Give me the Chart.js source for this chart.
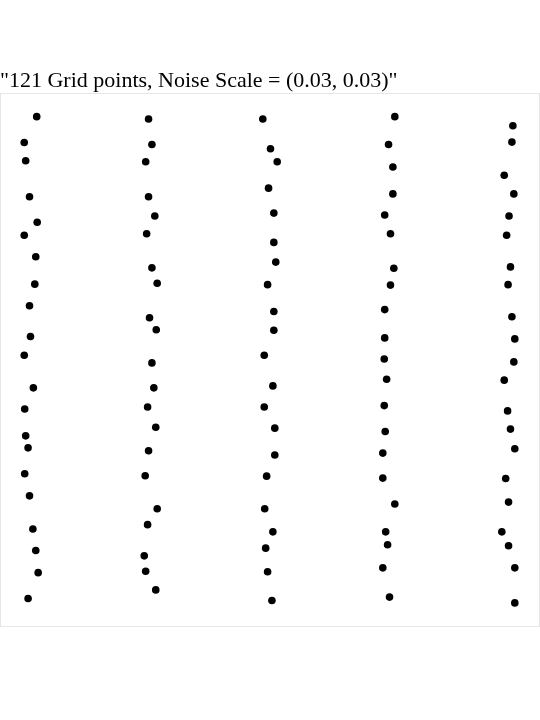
<!DOCTYPE html>
<html>
<head>
<meta charset="utf-8">
<script src="https://cdn.jsdelivr.net/npm/chart.js@4/dist/chart.umd.min.js"></script>
<style>
  html, body { margin: 0; padding: 0; background: #ffffff; }
  #wrap { width: 540px; height: 720px; position: relative; }
</style>
</head>
<body>
<div id="wrap"><canvas id="c" width="540" height="720"></canvas></div>
<script>
const chartTitle = '"121 Grid points, Noise Scale = (0.03, 0.03)"';

const col1X = [0.014, -0.012, -0.009, -0.001, 0.015, -0.012, 0.012, 0.010, -0.001, 0.001, -0.012, 0.007, -0.011, -0.009, -0.004, -0.011, -0.001, 0.006, 0.012, 0.017, -0.004];
const col1Y = [1.007, 0.953, 0.915, 0.840, 0.787, 0.760, 0.715, 0.658, 0.613, 0.549, 0.510, 0.442, 0.398, 0.342, 0.317, 0.263, 0.217, 0.148, 0.103, 0.057, 0.003];

const col2X = [0.247, 0.254, 0.241, 0.247, 0.260, 0.243, 0.254, 0.265, 0.249, 0.263, 0.254, 0.258, 0.245, 0.262, 0.247, 0.240, 0.265, 0.245, 0.238, 0.241, 0.262];
const col2Y = [1.002, 0.949, 0.913, 0.840, 0.800, 0.763, 0.692, 0.660, 0.588, 0.563, 0.494, 0.442, 0.402, 0.360, 0.311, 0.259, 0.190, 0.157, 0.092, 0.060, 0.021];

const col3X = [0.485, 0.501, 0.515, 0.497, 0.508, 0.508, 0.512, 0.495, 0.508, 0.508, 0.488, 0.506, 0.488, 0.510, 0.510, 0.493, 0.489, 0.506, 0.491, 0.495, 0.504];
const col3Y = [1.002, 0.940, 0.913, 0.858, 0.806, 0.745, 0.704, 0.657, 0.601, 0.562, 0.510, 0.446, 0.402, 0.358, 0.302, 0.258, 0.190, 0.142, 0.108, 0.059, -0.001];

const col4X = [0.760, 0.747, 0.756, 0.756, 0.739, 0.751, 0.758, 0.751, 0.739, 0.739, 0.738, 0.743, 0.738, 0.740, 0.735, 0.735, 0.760, 0.741, 0.745, 0.735, 0.749];
const col4Y = [1.007, 0.949, 0.902, 0.846, 0.802, 0.763, 0.691, 0.656, 0.605, 0.546, 0.502, 0.460, 0.405, 0.351, 0.306, 0.254, 0.200, 0.142, 0.115, 0.067, 0.006];

const col5X = [1.006, 1.004, 0.988, 1.008, 0.998, 0.993, 1.001, 0.996, 1.004, 1.010, 1.008, 0.988, 0.995, 1.001, 1.010, 0.991, 0.997, 0.983, 0.997, 1.010, 1.010];
const col5Y = [0.988, 0.954, 0.885, 0.846, 0.800, 0.760, 0.694, 0.657, 0.590, 0.544, 0.496, 0.458, 0.394, 0.356, 0.315, 0.253, 0.204, 0.142, 0.113, 0.067, -0.006];

const columnsX = [col1X, col2X, col3X, col4X, col5X];
const columnsY = [col1Y, col2Y, col3Y, col4Y, col5Y];

const points = [];
columnsX.forEach((xs, ci) => {
  xs.forEach((x, i) => points.push({ x: x, y: columnsY[ci][i] }));
});

const frameBox = {
  id: 'frameBox',
  beforeDatasetsDraw(chart) {
    const a = chart.chartArea;
    const ctx = chart.ctx;
    ctx.save();
    ctx.strokeStyle = '#e6e6e6';
    ctx.lineWidth = 1;
    ctx.strokeRect(Math.round(a.left) + 0.5, Math.round(a.top) + 0.5,
                   Math.round(a.right - a.left) - 1, Math.round(a.bottom - a.top) - 1);
    ctx.restore();
  }
};

new Chart(document.getElementById('c'), {
  type: 'scatter',
  data: {
    datasets: [{
      data: points,
      backgroundColor: '#000000',
      borderWidth: 0,
      pointRadius: 3.8,
      pointHoverRadius: 3.8
    }]
  },
  options: {
    responsive: false,
    animation: false,
    events: [],
    layout: { autoPadding: false, padding: { left: 0, right: 0, top: 70.5, bottom: 93 } },
    plugins: {
      legend: { display: false },
      tooltip: { enabled: false },
      title: {
        display: true,
        text: chartTitle,
        align: 'start',
        color: '#000000',
        font: { family: "'Liberation Serif', 'Times New Roman', serif", size: 22, weight: 'normal', lineHeight: 1.0 },
        padding: { top: 0, bottom: 0.5 }
      }
    },
    scales: {
      x: { type: 'linear', display: false, min: -0.0625, max: 1.0625 },
      y: { type: 'linear', display: false, min: -0.05625, max: 1.05625 }
    }
  },
  plugins: [frameBox]
});
</script>
</body>
</html>
